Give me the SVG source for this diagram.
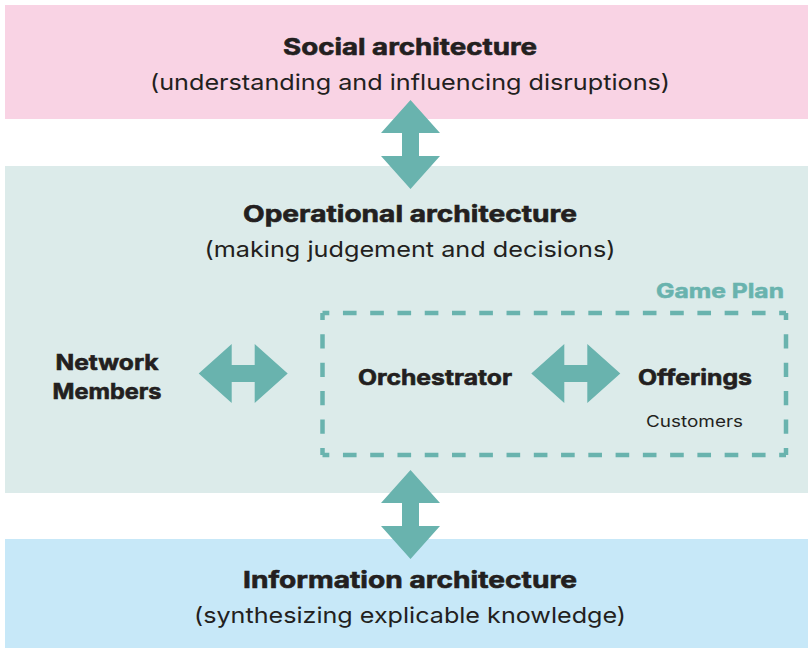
<svg xmlns="http://www.w3.org/2000/svg" width="808" height="648" viewBox="0 0 808 648">
  <style>
    .title { font-family: Inter, "Liberation Sans", sans-serif; font-weight: 700; font-size: 23px; fill: #231f20; stroke: #231f20; stroke-width: 0.6; text-anchor: middle; }
    .sub { font-family: Inter, "Liberation Sans", sans-serif; font-weight: 400; font-size: 22px; fill: #231f20; text-anchor: middle; }
    .node { font-family: Inter, "Liberation Sans", sans-serif; font-weight: 700; font-size: 21px; fill: #231f20; stroke: #231f20; stroke-width: 0.6; text-anchor: middle; }
    .small { font-family: Inter, "Liberation Sans", sans-serif; font-weight: 400; font-size: 16px; fill: #231f20; text-anchor: middle; }
    .arrow { fill: #69b3ae; }
    .dash { stroke: #69b3ae; stroke-width: 4.5; fill: none; stroke-dasharray: 1 1; stroke-dashoffset: 0.5; }
  </style>
  <defs>
    <!-- double-headed arrow, centred on origin, pointing along x -->
    <polygon id="dbl" points="-44.5,0 -11.5,-29.5 -11.5,-8.5 11.5,-8.5 11.5,-29.5 44.5,0 11.5,29.5 11.5,8.5 -11.5,8.5 -11.5,29.5"/>
  </defs>

  <rect width="808" height="648" fill="#ffffff"/>

  <!-- Social layer -->
  <g id="social">
    <rect x="5" y="5" width="803" height="114" fill="#f9d3e4"/>
    <text class="title" x="410" y="55" textLength="254" lengthAdjust="spacingAndGlyphs">Social architecture</text>
    <text class="sub" x="410" y="90" textLength="520" lengthAdjust="spacingAndGlyphs">(understanding and influencing disruptions)</text>
  </g>

  <!-- Operational layer -->
  <g id="operational">
    <rect x="5" y="166" width="803" height="327" fill="#dcebea"/>
    <text class="title" x="410" y="222" textLength="334" lengthAdjust="spacingAndGlyphs">Operational architecture</text>
    <text class="sub" x="410" y="257" textLength="411" lengthAdjust="spacingAndGlyphs">(making judgement and decisions)</text>
  </g>

  <!-- Information layer -->
  <g id="information">
    <rect x="5" y="539" width="803" height="109" fill="#c7e8f8"/>
    <text class="title" x="410" y="588" textLength="334" lengthAdjust="spacingAndGlyphs">Information architecture</text>
    <text class="sub" x="410" y="623" textLength="432" lengthAdjust="spacingAndGlyphs">(synthesizing explicable knowledge)</text>
  </g>

  <!-- Game plan frame -->
  <g id="game-plan">
    <text x="784" y="298" font-family="Inter, 'Liberation Sans', sans-serif" font-weight="700" font-size="20" fill="#69b3ae" stroke="#69b3ae" stroke-width="0.5" text-anchor="end" textLength="128" lengthAdjust="spacingAndGlyphs">Game Plan</text>
    <line class="dash" x1="322.5" y1="313" x2="786" y2="313" pathLength="34"/>
    <line class="dash" x1="786" y1="313" x2="786" y2="455" pathLength="10"/>
    <line class="dash" x1="786" y1="455" x2="322.5" y2="455" pathLength="34"/>
    <line class="dash" x1="322.5" y1="455" x2="322.5" y2="313" pathLength="10"/>
  </g>

  <g id="network-members">
    <text class="node" x="107" y="370" textLength="103" lengthAdjust="spacingAndGlyphs">Network</text>
    <text class="node" x="107" y="399" textLength="109" lengthAdjust="spacingAndGlyphs">Members</text>
  </g>

  <g id="orchestrator">
    <text class="node" x="435" y="385" textLength="154" lengthAdjust="spacingAndGlyphs">Orchestrator</text>
  </g>

  <g id="offerings">
    <text class="node" x="695" y="385" textLength="114" lengthAdjust="spacingAndGlyphs">Offerings</text>
    <text class="small" x="694.5" y="427" textLength="97" lengthAdjust="spacingAndGlyphs">Customers</text>
  </g>

  <!-- Connectors -->
  <g id="connectors" class="arrow">
    <use href="#dbl" transform="translate(410.5,144.5) rotate(90)"/>
    <use href="#dbl" transform="translate(410.5,514.5) rotate(90)"/>
    <use href="#dbl" transform="translate(243.2,373.5)"/>
    <use href="#dbl" transform="translate(575.8,373.5)"/>
  </g>
</svg>
